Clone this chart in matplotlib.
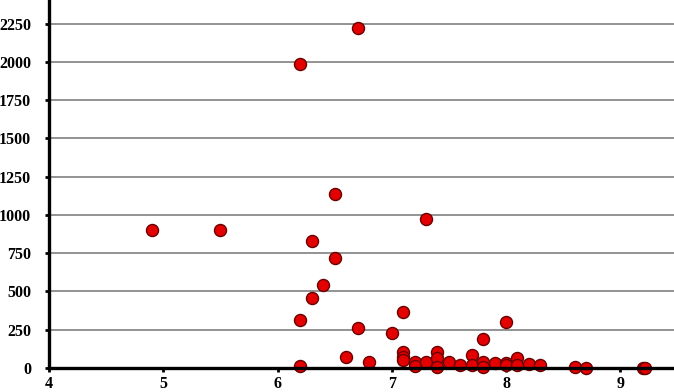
import matplotlib
matplotlib.use("Agg")
import matplotlib.pyplot as plt

# values
x_vals = [4.9, 5.5, 6.2, 6.7, 6.5, 7.3, 6.3, 6.5, 6.4, 6.3,
          6.2, 6.7, 7.0, 7.1, 8.0, 7.8, 6.6, 6.8, 6.2,
          7.1, 7.1, 7.1, 7.2, 7.2, 7.3, 7.4, 7.4, 7.4, 7.5, 7.6,
          7.7, 7.7, 7.8, 7.8, 7.9, 8.0, 8.0, 8.1, 8.1, 8.2, 8.3,
          8.6, 8.7, 9.2, 9.22]
y_vals = [900, 905, 1985, 2225, 1140, 975, 830, 720, 542, 457,
          314, 262, 230, 366, 300, 190, 72, 40, 13,
          105, 75, 52, 40, 13, 40, 105, 65, 7, 40, 22,
          85, 20, 40, 7, 30, 33, 18, 68, 20, 26, 20,
          7, 2, 3, 2]
y_ticks = [0, 250, 500, 750, 1000, 1250, 1500, 1750, 2000, 2250]
x_ticks = [4, 5, 6, 7, 8, 9]

fig = plt.figure(figsize=(6.74, 3.92), dpi=100)
ax = fig.add_axes([49 / 674, 24 / 392, 1 - 49 / 674, 1 - 24 / 392])

ax.scatter(x_vals, y_vals, s=75, color="#e30000", edgecolor="#6a0000",
           linewidth=1.0, zorder=3, clip_on=False)

ax.set_xlim(4, 9.47)
ax.set_ylim(0, 2405)
ax.set_xticks(x_ticks)
ax.set_yticks(y_ticks)
ax.yaxis.grid(True, color="#8a8a8a", lw=1.3)
ax.set_axisbelow(True)

for side in ["top", "right"]:
    ax.spines[side].set_visible(False)
for side in ["left", "bottom"]:
    ax.spines[side].set_linewidth(2.4)
    ax.spines[side].set_zorder(4)

ax.tick_params(axis="both", direction="out", length=3, width=2, color="black")
ax.tick_params(axis="y", pad=10)
ax.tick_params(axis="x", pad=2.5)
for lbl in ax.get_xticklabels() + ax.get_yticklabels():
    lbl.set_fontfamily("Liberation Serif")
    lbl.set_fontweight("bold")
    lbl.set_fontsize(11.5)

fig.savefig("out.png", dpi=100)
